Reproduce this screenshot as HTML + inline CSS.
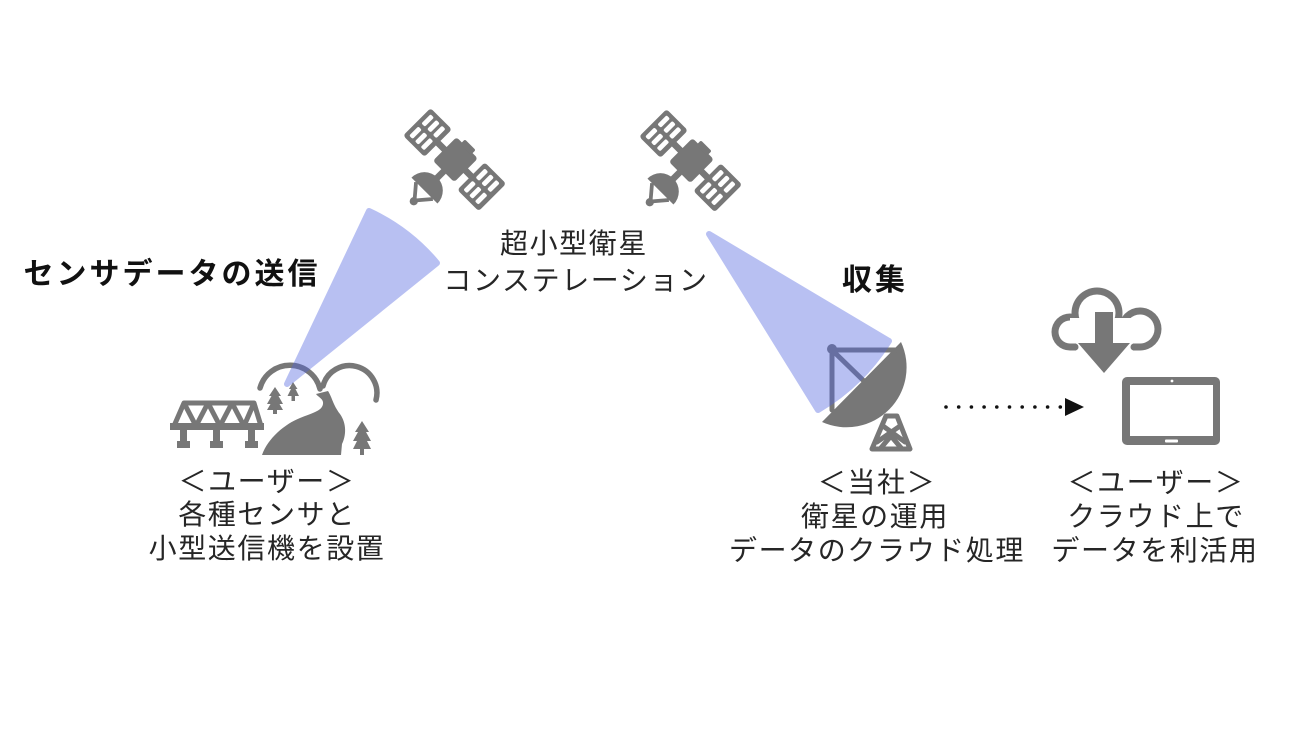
<!DOCTYPE html>
<html><head><meta charset="utf-8">
<style>
html,body{margin:0;padding:0;background:#fff;}
#c{position:relative;width:1300px;height:731px;overflow:hidden;background:#fff;}
svg{position:absolute;left:0;top:0;}
.t{position:absolute;width:400px;height:34px;line-height:34px;text-align:center;white-space:nowrap;
font-family:"Liberation Sans","Noto Sans CJK JP",sans-serif;font-size:28px;letter-spacing:1.6px;color:#262626;}
.b{position:absolute;width:400px;height:34px;line-height:34px;text-align:center;white-space:nowrap;
font-family:"Liberation Sans","Noto Sans CJK JP",sans-serif;font-size:30px;letter-spacing:3px;font-weight:bold;color:#111;}
</style></head><body><div id="c">
<svg width="1300" height="731" viewBox="0 0 1300 731">
<defs>
<g id="sat">
  <rect x="-50" y="-18" width="28" height="36" rx="3" fill="#777"/>
  <rect x="21" y="-18" width="28" height="36" rx="3" fill="#777"/>
  <g fill="#fff">
    <rect x="-46" y="-14" width="4.5" height="12" rx="1.5"/>
    <rect x="-38.5" y="-14" width="4.5" height="12" rx="1.5"/>
    <rect x="-31" y="-14" width="4.5" height="12" rx="1.5"/>
    <rect x="-46" y="2" width="4.5" height="12" rx="1.5"/>
    <rect x="-38.5" y="2" width="4.5" height="12" rx="1.5"/>
    <rect x="-31" y="2" width="4.5" height="12" rx="1.5"/>
    <rect x="25" y="-14" width="4.5" height="12" rx="1.5"/>
    <rect x="32.5" y="-14" width="4.5" height="12" rx="1.5"/>
    <rect x="40" y="-14" width="4.5" height="12" rx="1.5"/>
    <rect x="25" y="2" width="4.5" height="12" rx="1.5"/>
    <rect x="32.5" y="2" width="4.5" height="12" rx="1.5"/>
    <rect x="40" y="2" width="4.5" height="12" rx="1.5"/>
  </g>
  <rect x="-23" y="-3" width="11" height="6" fill="#777"/>
  <rect x="12" y="-3" width="10" height="6" fill="#777"/>
  <rect x="-14" y="-16" width="28" height="31" rx="3" fill="#777"/>
  <rect x="-7" y="-20" width="14" height="6" rx="1.5" fill="#777"/>
  <rect x="-3" y="12" width="6" height="18" fill="#777"/>
  <path d="M-17,40 A17,17 0 0,1 17,40 Z" fill="#777"/>
  <path d="M-11,40 L0,53 L11,40" fill="none" stroke="#777" stroke-width="3.5" stroke-linejoin="round"/>
  <circle cx="0" cy="54" r="3.8" fill="#777"/>
</g>
</defs>

<!-- satellites -->
<use href="#sat" transform="translate(455,160) rotate(45) scale(1.08)"/>
<use href="#sat" transform="translate(691,161) rotate(45) scale(1.08)"/>

<!-- landscape: bridge -->
<g stroke="#777" fill="none" stroke-width="5" stroke-linejoin="round" stroke-linecap="butt">
  <path d="M174,426 L184,403 L254,403 L261,426"/>
  <path d="M184,403 L196,426 L208,403 L220,426 L232,403 L244,426 L254,403"/>
</g>
<rect x="170" y="423" width="94" height="7" fill="#777"/>
<g fill="#777">
  <rect x="180" y="428" width="7" height="14"/>
  <rect x="213" y="428" width="7" height="14"/>
  <rect x="248" y="428" width="7" height="14"/>
  <rect x="177" y="441" width="13" height="7"/>
  <rect x="210" y="441" width="13" height="7"/>
  <rect x="245" y="441" width="13" height="7"/>
</g>
<!-- hills arcs -->
<path d="M260,388 A31,31 0 0,1 320,389" fill="none" stroke="#777" stroke-width="5.5" stroke-linecap="round"/>
<path d="M323,386 A27,27 0 0,1 376,400" fill="none" stroke="#777" stroke-width="5.5" stroke-linecap="round"/>
<!-- river -->
<path d="M262,455 C268,438 285,424 300,418 C312,413 322,411 323,404 C324,399 318,397 316,394 L328,391 C332,397 333,405 340,414 C347,424 346,436 342,444 L341,455 Z" fill="#777"/>
<!-- trees -->
<g fill="#777">
  <path d="M275,387 L281,396 L278.5,396 L283,404 L279.5,404 L283,410 L277,410 L277,414 L273,414 L273,410 L267,410 L270.5,404 L267,404 L271.5,396 L269,396 Z"/>
  <path d="M293,382 L297.5,389 L295.5,389 L299,396 L295,396 L295,401 L291.5,401 L291.5,396 L287.5,396 L291,389 L289,389 Z"/>
  <path d="M362,421 L369,432 L366,432 L371,441 L367,441 L371,449 L364,449 L364,455 L360,455 L360,449 L353,449 L357,441 L353,441 L358,432 L355,432 Z"/>
</g>

<!-- ground station -->
<path d="M901,342 A60,60 0 0,1 822,422 Z" fill="#777"/>
<g stroke="#777" stroke-width="5" stroke-linecap="round" fill="none">
  <line x1="832" y1="350" x2="896" y2="350"/>
  <line x1="832" y1="350" x2="832" y2="410"/>
  <line x1="832" y1="350" x2="866" y2="383"/>
</g>
<circle cx="832" cy="349" r="5" fill="#777"/>
<g stroke="#777" stroke-width="5" stroke-linejoin="round" stroke-linecap="round" fill="none">
  <path d="M886,416 L897,416 L910,449 L872,449 Z"/>
  <path d="M883,426 L905,442 M900,426 L877,442 M880,449 L891,436 L902,449"/>
</g>

<!-- beams -->
<g opacity="0.4">
  <path d="M287,384 L369,211 A194,194 0 0,1 437,263 Z" fill="rgb(80,100,225)" stroke="rgb(80,100,225)" stroke-width="6" stroke-linejoin="round"/>
  <path d="M709,234 L889,341 A210,210 0 0,1 818,410 Z" fill="rgb(80,100,225)" stroke="rgb(80,100,225)" stroke-width="6" stroke-linejoin="round"/>
</g>

<!-- dotted arrow -->
<g fill="#111">
  <circle cx="946" cy="407" r="1.8"/>
  <circle cx="958.7" cy="407" r="1.8"/>
  <circle cx="971.4" cy="407" r="1.8"/>
  <circle cx="984.1" cy="407" r="1.8"/>
  <circle cx="996.8" cy="407" r="1.8"/>
  <circle cx="1009.5" cy="407" r="1.8"/>
  <circle cx="1022.2" cy="407" r="1.8"/>
  <circle cx="1034.9" cy="407" r="1.8"/>
  <circle cx="1047.6" cy="407" r="1.8"/>
  <circle cx="1060.3" cy="407" r="1.8"/>
  <polygon points="1065,398 1084,407 1065,416"/>
</g>

<!-- cloud -->
<g fill="#777">
  <circle cx="1070" cy="332" r="18.5"/>
  <circle cx="1097" cy="313" r="25.5"/>
  <circle cx="1140" cy="329" r="21.5"/>
  <rect x="1070" y="318" width="70" height="32.5"/>
</g>
<g fill="#fff">
  <circle cx="1070" cy="332" r="11.5"/>
  <circle cx="1097" cy="313" r="18.5"/>
  <circle cx="1140" cy="329" r="14.5"/>
  <rect x="1070" y="318" width="70" height="25.5"/>
  <rect x="1076" y="338" width="57" height="16"/>
</g>
<circle cx="1075" cy="347" r="3.5" fill="#777"/>
<circle cx="1134" cy="347" r="3.5" fill="#777"/>
<polygon points="1095,312 1113,312 1113,343 1130,343 1104,373 1078,343 1095,343" fill="#777"/>

<!-- tablet -->
<rect x="1122" y="377" width="98" height="68" rx="5" fill="#777"/>
<rect x="1130" y="385" width="83" height="51" fill="#fff"/>
<circle cx="1172" cy="381" r="1.4" fill="#fff"/>
<rect x="1165" y="439.5" width="13" height="3" rx="1" fill="#fff"/>
</svg>

<div class="b" style="left:-28px;top:258px;">センサデータの送信</div>
<div class="b" style="left:675px;top:264px;">収集</div>

<div class="t" style="left:374px;top:227px;">超小型衛星</div>
<div class="t" style="left:376px;top:264px;">コンステレーション</div>

<div class="t" style="left:67px;top:465px;">＜ユーザー＞</div>
<div class="t" style="left:67px;top:498px;">各種センサと</div>
<div class="t" style="left:67px;top:532px;">小型送信機を設置</div>

<div class="t" style="left:677px;top:466px;">＜当社＞</div>
<div class="t" style="left:675px;top:500px;">衛星の運用</div>
<div class="t" style="left:677px;top:534px;">データのクラウド処理</div>

<div class="t" style="left:956px;top:466px;">＜ユーザー＞</div>
<div class="t" style="left:956px;top:500px;">クラウド上で</div>
<div class="t" style="left:955px;top:534px;">データを利活用</div>
</div></body></html>
